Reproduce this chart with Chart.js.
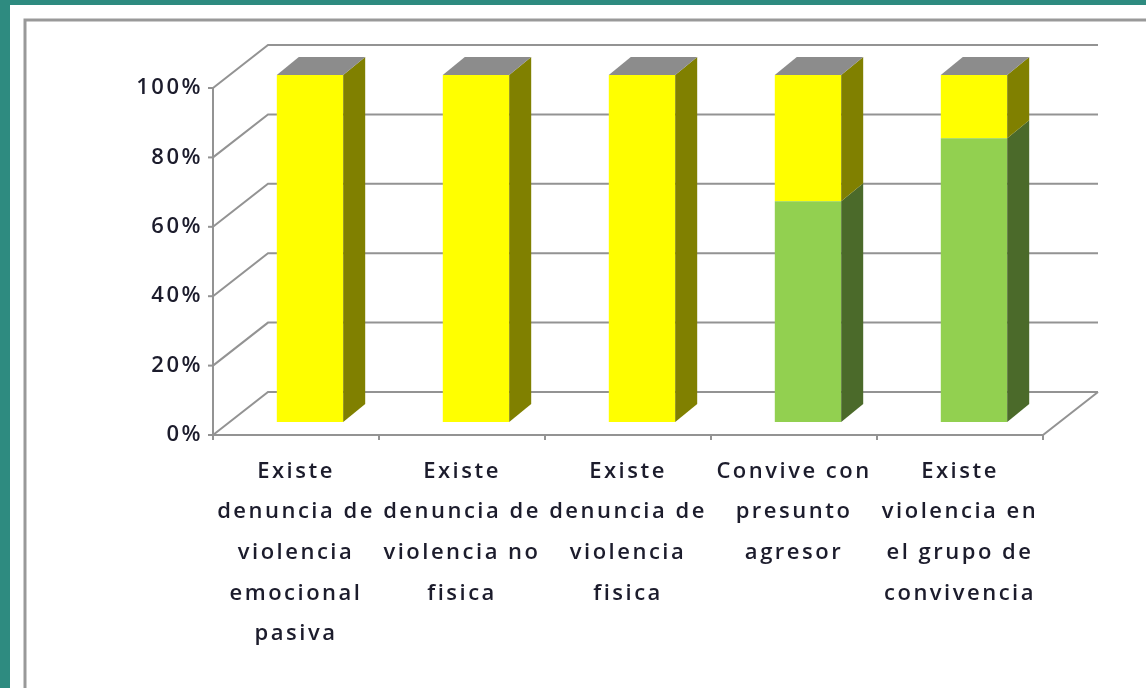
<!DOCTYPE html>
<html>
<head>
  <meta charset="UTF-8">
  <title>Denuncias de violencia</title>
  <script src="https://cdn.jsdelivr.net/npm/chart.js"></script>
  <style>
    html, body { margin: 0; padding: 0; background: #2e8b80; }
    #wrap { width: 1146px; height: 688px; }
  </style>
</head>
<body>
  <div id="wrap"><canvas id="grafico" width="1146" height="688"></canvas></div>

  <script>
    // datos
    const categorias = [
      ['Existe', 'denuncia de', 'violencia', 'emocional', 'pasiva'],
      ['Existe', 'denuncia de', 'violencia no', 'fisica'],
      ['Existe', 'denuncia de', 'violencia', 'fisica'],
      ['Convive con', 'presunto', 'agresor'],
      ['Existe', 'violencia en', 'el grupo de', 'convivencia']
    ];
    const serieVerde = [0, 0, 0, 63.6, 81.8];
    const serieAmarilla = [100, 100, 100, 36.4, 18.2];
    const ticksY = [0, 20, 40, 60, 80, 100];

    // profundidad del efecto 3D
    const PARED = { dx: 55, dy: -43 };
    const DESPLAZ = { dx: 14, dy: -13 };
    const FONDO = { dx: 22, dy: -18 };

    const colores = {
      verde: '#92d050', verdeLado: '#4b6a2a',
      amarillo: '#ffff00', amarilloLado: '#808000',
      tapa: '#8c8c8c', linea: '#939393'
    };

    function linea(ctx, pts) {
      ctx.beginPath();
      ctx.moveTo(pts[0][0], pts[0][1]);
      for (let i = 1; i < pts.length; i++) ctx.lineTo(pts[i][0], pts[i][1]);
      ctx.stroke();
    }

    function poligono(ctx, pts, color) {
      ctx.beginPath();
      ctx.moveTo(pts[0][0], pts[0][1]);
      for (let i = 1; i < pts.length; i++) ctx.lineTo(pts[i][0], pts[i][1]);
      ctx.closePath();
      ctx.fillStyle = color;
      ctx.fill();
    }

    // marco teal + borde gris interior; espaciado de letras del texto
    const marco = {
      id: 'marco',
      beforeLayout(chart) {
        chart.ctx.letterSpacing = '2.5px';
      },
      beforeDraw(chart) {
        const ctx = chart.ctx;
        ctx.letterSpacing = '2.5px';
        ctx.save();
        ctx.fillStyle = '#2e8b80';
        ctx.fillRect(0, 0, chart.width, chart.height);
        ctx.fillStyle = '#ffffff';
        ctx.fillRect(10, 5, chart.width, chart.height);
        ctx.strokeStyle = '#999999';
        ctx.lineWidth = 3;
        ctx.strokeRect(25, 20, chart.width + 20, chart.height + 20);
        ctx.restore();
      }
    };

    // paredes, suelo, ejes y caras laterales de las barras
    const tresD = {
      id: 'tresD',
      beforeDatasetsDraw(chart) {
        const { ctx, chartArea: a, scales: { x, y } } = chart;
        ctx.save();
        ctx.strokeStyle = colores.linea;
        ctx.lineWidth = 2;
        ticksY.forEach(v => {
          const py = y.getPixelForValue(v);
          linea(ctx, [[a.left, py], [a.left + PARED.dx, py + PARED.dy], [a.right + PARED.dx, py + PARED.dy]]);
          linea(ctx, [[a.left - 5, py], [a.left, py]]);
        });
        linea(ctx, [[a.left, a.top], [a.left, a.bottom], [a.right, a.bottom], [a.right + PARED.dx, a.bottom + PARED.dy]]);
        for (let i = 0; i <= categorias.length; i++) {
          const px = a.left + (a.right - a.left) * i / categorias.length;
          linea(ctx, [[px, a.bottom], [px, a.bottom + 5]]);
        }
        ctx.restore();
        ctx.save();
        ctx.translate(DESPLAZ.dx, DESPLAZ.dy);
      },
      afterDatasetsDraw(chart) {
        const ctx = chart.ctx;
        const lados = [colores.verdeLado, colores.amarilloLado];
        chart.data.datasets.forEach((ds, di) => {
          const meta = chart.getDatasetMeta(di);
          meta.data.forEach((bar, i) => {
            if (!ds.data[i]) return;
            const p = bar.getProps(['x', 'y', 'base', 'width'], true);
            const x2 = p.x + p.width / 2;
            poligono(ctx, [[x2, p.y], [x2 + FONDO.dx, p.y + FONDO.dy], [x2 + FONDO.dx, p.base + FONDO.dy], [x2, p.base]], lados[di]);
          });
        });
        // tapa superior de cada columna
        const metaTop = chart.getDatasetMeta(chart.data.datasets.length - 1);
        metaTop.data.forEach(bar => {
          const p = bar.getProps(['x', 'y', 'width'], true);
          const x1 = p.x - p.width / 2, x2 = p.x + p.width / 2;
          poligono(ctx, [[x1, p.y], [x2, p.y], [x2 + FONDO.dx, p.y + FONDO.dy], [x1 + FONDO.dx, p.y + FONDO.dy]], colores.tapa);
        });
        ctx.restore();
      }
    };

    const fuente = { family: '"Open Sans", "Noto Sans", sans-serif', size: 22, weight: '600' };

    new Chart(document.getElementById('grafico'), {
      type: 'bar',
      data: {
        labels: categorias,
        datasets: [
          { label: 'Sí', data: serieVerde, backgroundColor: colores.verde, clip: false },
          { label: 'No', data: serieAmarilla, backgroundColor: colores.amarillo, clip: false }
        ]
      },
      options: {
        responsive: false,
        animation: false,
        layout: { padding: { top: 88, right: 103, left: 0, bottom: 0 } },
        datasets: { bar: { categoryPercentage: 1, barPercentage: 0.4 } },
        plugins: { legend: { display: false }, tooltip: { enabled: false } },
        scales: {
          x: {
            stacked: true,
            grid: { display: false },
            border: { display: false },
            afterFit: s => { s.height = 688 - 435; },
            ticks: {
              color: '#1c1c2c',
              maxRotation: 0, minRotation: 0, autoSkip: false,
              padding: 8,
              font: Object.assign({ lineHeight: 1.85 }, fuente)
            }
          },
          y: {
            stacked: true,
            min: 0, max: 100,
            grid: { display: false },
            border: { display: false },
            afterFit: s => { s.width = 213; },
            afterBuildTicks: s => { s.ticks = ticksY.map(v => ({ value: v })); },
            ticks: {
              color: '#1c1c2c',
              padding: 2,
              font: fuente,
              callback: v => v + '%'
            }
          }
        }
      },
      plugins: [marco, tresD]
    });
  </script>
</body>
</html>
